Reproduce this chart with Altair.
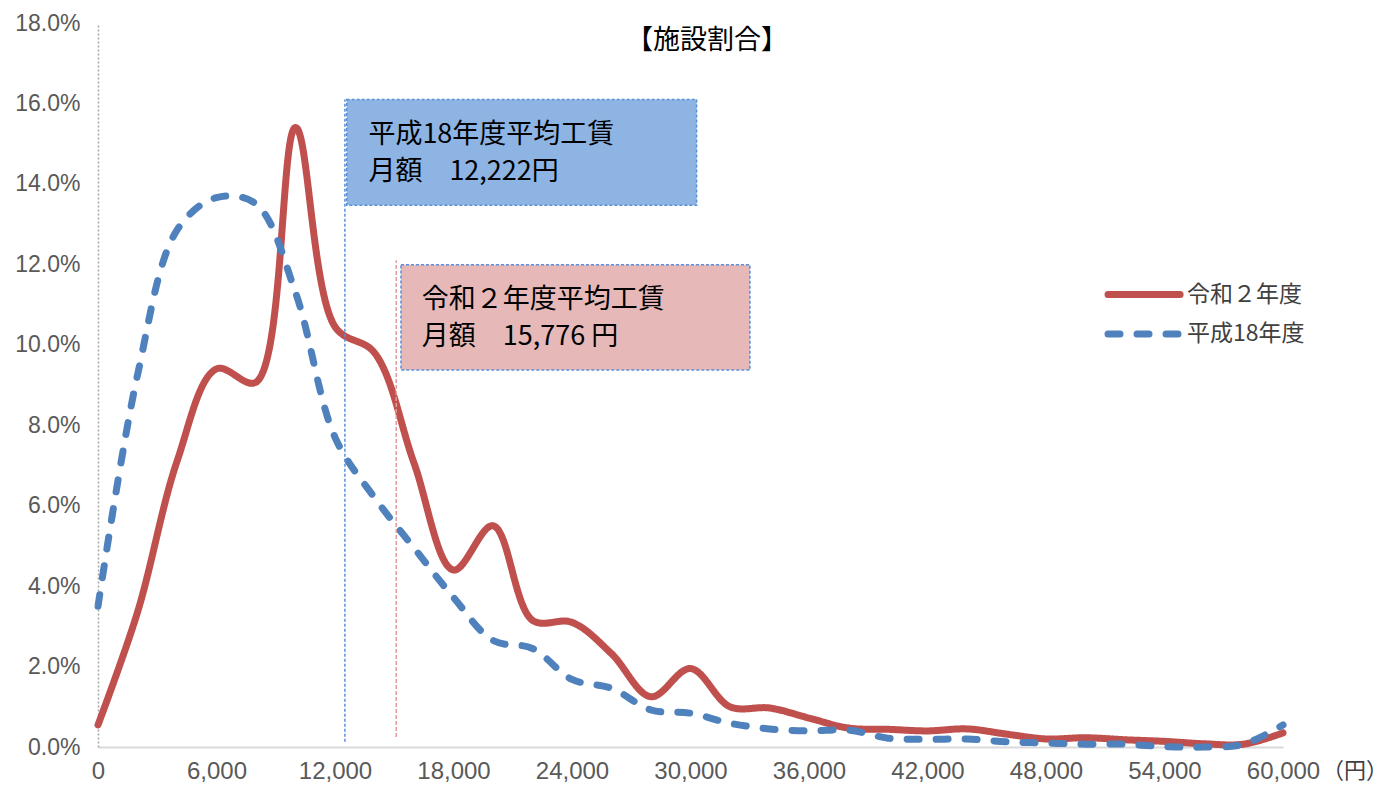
import altair as alt
import pandas as pd

# ---- data ----
amounts = list(range(0, 60001, 2000))
reiwa2 = [0.55, 3.35, 7.1, 9.4, 9.07, 15.4, 10.45, 9.8, 7.06, 4.4, 5.5, 3.15, 3.1,
          2.32, 1.25, 1.95, 1.0, 0.97, 0.72, 0.47, 0.44, 0.4, 0.45, 0.32, 0.2,
          0.23, 0.18, 0.14, 0.08, 0.07, 0.35]
heisei18 = [3.5, 9.25, 12.85, 13.66, 13.5, 11.3, 7.7, 6.2, 4.95, 3.72, 2.65, 2.45,
            1.68, 1.46, 0.92, 0.84, 0.59, 0.45, 0.4, 0.42, 0.22, 0.19, 0.2, 0.13,
            0.1, 0.07, 0.07, 0.01, 0.0, 0.07, 0.55]
series_names = ["令和２年度", "平成18年度"]
series_colors = ["#C0504D", "#4F81BD"]
series_dashes = [[1, 0], [12, 17]]
x_ticks = list(range(0, 60001, 6000))
y_ticks = list(range(0, 19, 2))

title_text = "【施設割合】"
unit_text = "（円）"
box_lines = ["平成18年度平均工賃", "月額　12,222円", "令和２年度平均工賃", "月額　15,776 円"]

rows = []
for a, r in zip(amounts, reiwa2):
    rows.append({"amount": a, "pct": r, "series": series_names[0]})
for a, h in zip(amounts, heisei18):
    rows.append({"amount": a, "pct": h, "series": series_names[1]})
df = pd.DataFrame(rows)

JP = "Noto Sans CJK JP"
LAT = "Liberation Sans"
color_scale = alt.Scale(domain=series_names, range=series_colors)
dash_scale = alt.Scale(domain=series_names, range=series_dashes)
xs = alt.Scale(domain=[0, 60000], nice=False, zero=False)
ys = alt.Scale(domain=[0, 18], nice=False)


def X(field):
    return alt.X(field, scale=xs, title=None)


def Y(field):
    return alt.Y(field, scale=ys, title=None)


# annotation boxes
boxes = pd.DataFrame({
    "x1": [12590, 15340], "x2": [30310, 33010],
    "y1": [16.1, 11.99], "y2": [13.47, 9.37],
    "fill": ["#8EB4E3", "#E6B9B8"],
})
box_layer = alt.Chart(boxes).mark_rect(
    stroke="#5B8FD8", strokeWidth=1.5, strokeDash=[3, 2]
).encode(
    x=X("x1:Q"), x2="x2:Q", y=Y("y1:Q"), y2="y2:Q",
    fill=alt.Fill("fill:N", scale=None),
)

curves = alt.Chart(df).mark_line(
    interpolate="catmull-rom", strokeWidth=7,
    strokeCap="round", strokeJoin="round"
).encode(
    x=alt.X("amount:Q", scale=xs, title=None, axis=alt.Axis(values=x_ticks, format=",d")),
    y=alt.Y("pct:Q", scale=ys, title=None,
            axis=alt.Axis(values=y_ticks, labelExpr="format(datum.value, '.1f') + '%'")),
    color=alt.Color("series:N", scale=color_scale, legend=None),
    strokeDash=alt.StrokeDash("series:N", scale=dash_scale, legend=None),
    order=alt.Order("amount:Q"),
)

# vertical average lines
vline_blue = alt.Chart(pd.DataFrame({"x": [12500], "y1": [0.13], "y2": [16.1]})).mark_rule(
    color="#5B8FD8", strokeWidth=1.5, strokeDash=[3, 2]
).encode(x=X("x:Q"), y=Y("y1:Q"), y2="y2:Q")
vline_red = alt.Chart(pd.DataFrame({"x": [15100], "y1": [0.25], "y2": [12.1]})).mark_rule(
    color="#E39C9A", strokeWidth=1.5, strokeDash=[4, 2]
).encode(x=X("x:Q"), y=Y("y1:Q"), y2="y2:Q")

# box texts
texts = pd.DataFrame({
    "x": [13690, 13690, 16390, 16390],
    "y": [15.21, 14.29, 11.11, 10.19],
    "label": box_lines,
})
text_layer = alt.Chart(texts).mark_text(
    align="left", baseline="middle", font=JP, fontSize=27, color="#000000"
).encode(x=X("x:Q"), y=Y("y:Q"), text="label:N")

# custom legend
leg = pd.DataFrame({
    "series": series_names,
    "x1": [51140, 51140], "x2": [54790, 54790],
    "y": [11.25, 10.27], "tx": [55140, 55140],
})
leg_lines = alt.Chart(leg).mark_rule(strokeWidth=7, strokeCap="round").encode(
    x=X("x1:Q"), x2="x2:Q", y=Y("y:Q"),
    color=alt.Color("series:N", scale=color_scale, legend=None),
    strokeDash=alt.StrokeDash("series:N", scale=dash_scale, legend=None),
)
leg_text = alt.Chart(leg).mark_text(
    align="left", baseline="middle", font=JP, fontSize=23, color="#404040"
).encode(x=X("tx:Q"), y=Y("y:Q"), text="series:N")

title_layer = alt.Chart(pd.DataFrame({"x": [30835], "y": [17.55], "label": [title_text]})).mark_text(
    align="center", baseline="middle", font=JP, fontSize=27, color="#000000"
).encode(x=X("x:Q"), y=Y("y:Q"), text="label:N")

unit_layer = alt.Chart(pd.DataFrame({"x": [60000], "y": [0], "label": [unit_text]})).mark_text(
    align="center", baseline="middle", font=JP, fontSize=22, color="#404040", dx=72, dy=24
).encode(x=X("x:Q"), y=Y("y:Q"), text="label:N")

chart = alt.layer(
    box_layer, curves, vline_blue, vline_red, text_layer,
    leg_lines, leg_text, title_layer, unit_layer
).properties(
    width=1185, height=724,
    padding={"left": 90, "top": 15, "right": 106, "bottom": 40},
    autosize=alt.AutoSizeParams(type="none"),
    background="#FFFFFF",
).configure_view(stroke=None).configure_axisX(
    ticks=False, grid=False, labelFont=LAT, labelFontSize=24,
    labelColor="#595959", labelPadding=12, domainColor="#D9D9D9",
    domainWidth=2, labelOverlap=False, labelFlush=False,
).configure_axisY(
    ticks=False, grid=False, labelFont=LAT, labelFontSize=23,
    labelColor="#595959", labelPadding=18, domainColor="#A6A6A6",
    domainWidth=1.5, domainDash=[2, 2], labelOverlap=False, labelFlush=False,
)

chart.save("out.html", embed_options={"renderer": "svg", "actions": False})
